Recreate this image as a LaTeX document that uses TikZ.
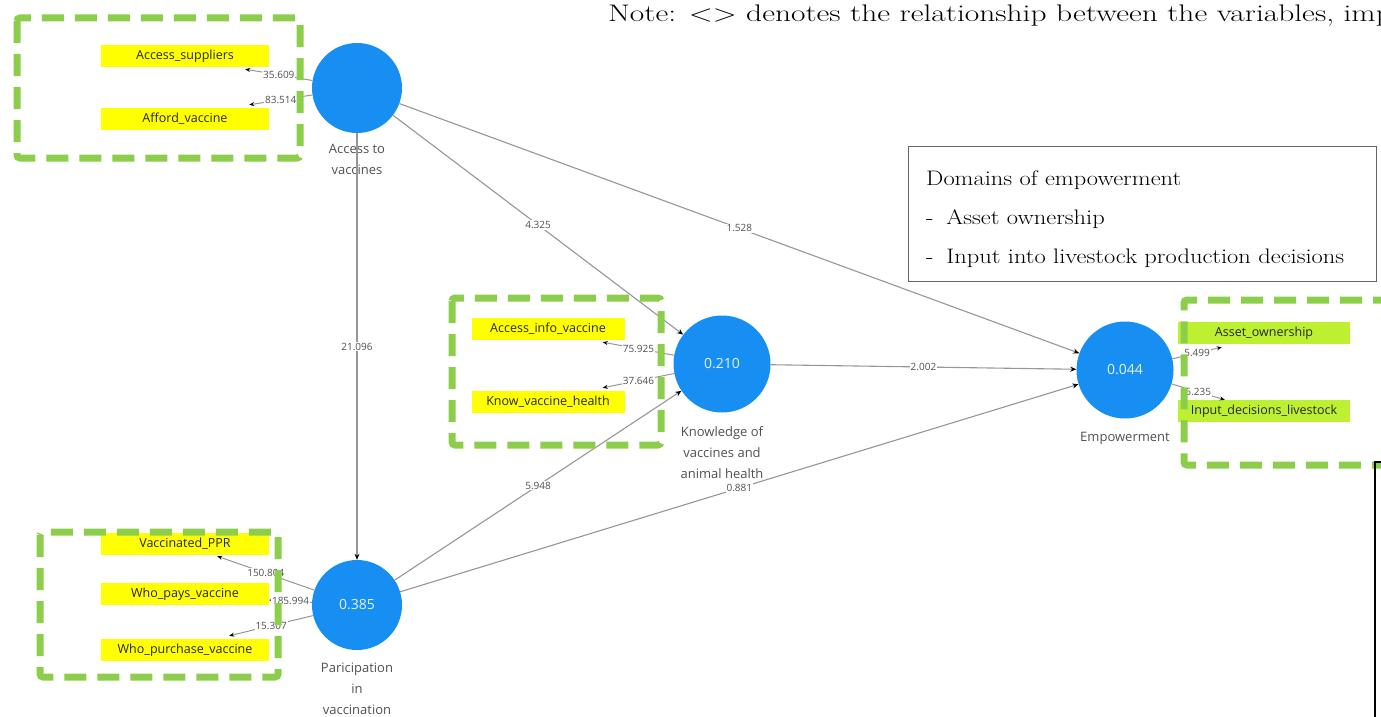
\documentclass[tikz,border=0pt]{standalone}
\usepackage{fontspec}
\newfontfamily\uifont{Open Sans}
\usetikzlibrary{shapes,arrows.meta,positioning,calc}

\definecolor{latentblue}{RGB}{22,142,242}
\definecolor{indyellow}{RGB}{255,255,0}
\definecolor{indlime}{RGB}{190,240,50}
\definecolor{markgreen}{RGB}{140,206,76}
\definecolor{pathgray}{RGB}{150,150,150}
\definecolor{labelgray}{RGB}{80,80,80}

\tikzset{
  latent/.style={circle, fill=latentblue, draw=none, inner sep=0pt, text=white!90!latentblue, font=\uifont\fontsize{14}{16}\selectfont},
  indicator/.style={rectangle, fill=indyellow, minimum width=168pt, minimum height=22pt, inner sep=0pt, text=black!85, font=\uifont\fontsize{12.5}{14}\selectfont},
  caption/.style={align=center, inner sep=0pt, text=labelgray, font=\uifont\fontsize{13}{21}\selectfont},
  structpath/.style={draw=pathgray, line width=1.1pt, -{Stealth[length=6pt,width=5pt,color=black]}},
  loading/.style={draw=pathgray, line width=1pt, -{Stealth[length=5pt,width=4pt,color=black]}},
  coef/.style={fill=white, inner sep=1pt, text=labelgray, font=\uifont\fontsize{10}{12}\selectfont},
  markbox/.style={draw=markgreen, line width=7pt, dash pattern=on 22pt off 11pt, rounded corners=3pt}
}

\begin{document}
\begin{tikzpicture}[x=1pt,y=-1pt]

\useasboundingbox (0,0) rectangle (1381,717);

% Note line at the top
\node[anchor=base west, inner sep=0pt, font=\fontsize{24}{28}\selectfont] (note) at (608,22)
  {\scalebox{1.31}[1]{Note: \textless\textgreater{} denotes the relationship between the variables, imp}};

% Latent variables
\node[latent, minimum size=90pt] (acc) at (357,88) {};
\node[latent, minimum size=97pt] (know) at (722,364) {0.210};
\node[latent, minimum size=97pt] (emp) at (1125,370) {0.044};
\node[latent, minimum size=90pt] (part) at (357,605) {0.385};

\node[caption, below=11pt of acc] (acccap) {Access to\\vaccines};
\node[caption, below=14pt of know] (knowcap) {Knowledge of\\vaccines and\\animal health};
\node[caption, below=13pt of emp] (empcap) {Empowerment};
\node[caption, below=13pt of part] (partcap) {Paricipation\\in\\vaccination};

% Indicators
\node[indicator] (supp) at (185,56) {Access\_suppliers};
\node[indicator] (afford) at (185,119) {Afford\_vaccine};
\node[indicator, minimum width=153pt] (info) at (548,329) {Access\_info\_vaccine};
\node[indicator, minimum width=153pt] (knowh) at (548,402) {Know\_vaccine\_health};
\node[indicator] (ppr) at (185,544) {Vaccinated\_PPR};
\node[indicator] (pays) at (185,594) {Who\_pays\_vaccine};
\node[indicator] (purch) at (185,650) {Who\_purchase\_vaccine};
\node[indicator, fill=indlime, minimum width=172pt] (asset) at (1264,333) {Asset\_ownership};
\node[indicator, fill=indlime, minimum width=172pt] (input) at (1264,411) {Input\_decisions\_livestock};

% Outer loadings
\draw[loading] (acc) -- ([xshift=-24pt,yshift=-2pt]supp.south east) node[coef, midway] {35.609};
\draw[loading] (acc) -- ([xshift=-20pt,yshift=3pt]afford.north east) node[coef, midway] {83.514};
\draw[loading] (know) -- ([xshift=-22pt,yshift=-2pt]info.south east) node[coef, midway] {75.925};
\draw[loading] (know) -- ([xshift=-22pt,yshift=3pt]knowh.north east) node[coef, midway] {37.646};
\draw[loading] (part) -- ([xshift=-52pt,yshift=-1pt]ppr.south east) node[coef, midway] {150.804};
\draw[loading] (part) -- ([yshift=-6pt]pays.east) node[coef, midway] {185.994};
\draw[loading] (part) -- ([xshift=-40pt,yshift=3pt]purch.north east) node[coef, midway] {15.307};
\draw[loading] (emp) -- ([xshift=44pt,yshift=-3pt]asset.south west) node[coef, midway] {5.499};
\draw[loading] (emp) -- ([xshift=47pt]input.north west) node[coef, midway] {6.235};

% Inner model
\draw[structpath] (acc) -- (part) node[coef, midway] {21.096};
\draw[structpath] (acc) -- (know) node[coef, midway] {4.325};
\draw[structpath] (acc) -- (emp) node[coef, midway] {1.528};
\draw[structpath] (know) -- (emp) node[coef, midway] {2.002};
\draw[structpath] (part) -- (know) node[coef, midway] {5.948};
\draw[structpath] (part) -- (emp) node[coef, midway] {0.881};

% Domains box
\node[draw=black!60, line width=1.2pt, anchor=north west, minimum width=468pt, minimum height=135pt] (domains) at (908,146) {};
\node[anchor=west, inner sep=0pt, font=\fontsize{21}{39}\selectfont] (domtext) at ([xshift=18pt,yshift=-3pt]domains.west)
  {\scalebox{1.165}[1]{\begin{tabular}{@{}l@{}}Domains of empowerment\\ -\hspace{11pt}Asset ownership\\ -\hspace{11pt}Input into livestock production decisions\end{tabular}}};

% Green marks
\draw[markbox] (17,18) rectangle (300,158);
\draw[markbox] (452,298) rectangle (661,445);
\draw[markbox] (1395,300) -- (1184,300) -- (1184,465) -- (1395,465);
\draw[markbox] (40,532) rectangle (278,677);

% Frame piece at the lower right
\draw[line width=1.4pt] (1381,462) -- (1375,462) -- (1375,717);

\end{tikzpicture}
\end{document}
